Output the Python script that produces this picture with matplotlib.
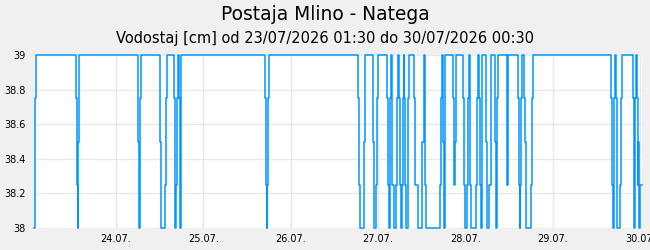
# Vodostaj chart for Postaja Mlino - Natega (step series, 23/07 - 30/07)

import pandas as pd
import matplotlib
matplotlib.use("Agg")
import matplotlib.pyplot as plt
import matplotlib.dates as mdates

start = pd.Timestamp("2026-07-23 01:30")
end = pd.Timestamp("2026-07-30 00:30")

# change points: hours since start and the level held from that moment on
t_hours = [0, 0.15, 0.3, 0.5,
           11.5, 11.8, 12.05, 12.15, 12.4,
           28.5, 28.8, 29.0, 29.2, 29.45,
           34.7, 34.95, 35.95, 36.2, 36.45,
           38.4, 38.7, 38.85, 39.0, 39.2, 39.5, 39.8, 40.0, 40.1, 40.25, 40.45,
           63.4, 63.8, 63.95, 64.05, 64.2, 64.6,
           88.9, 89.2, 89.5, 90.6, 90.9,
           93.2, 93.45, 94.0, 94.25, 94.5,
           96.9, 97.2, 97.45, 97.65, 97.85, 98.0,
           98.2, 98.4, 98.75, 99.5, 99.75, 99.9,
           100.2, 100.45, 100.75, 101.1, 101.35, 101.5,
           101.75, 102.0, 102.2, 102.65, 102.8, 103.1,
           104.3, 104.6, 105.4, 106.6, 107.05,
           107.3, 107.5, 107.7, 111.55, 111.85, 112.1,
           112.4, 112.65, 112.8, 115.0, 115.3, 115.5, 115.8,
           117.95, 118.2, 118.5, 118.85, 119.15, 119.4,
           119.7, 119.95, 121.45, 121.7, 121.9,
           122.35, 122.6, 122.9, 123.0, 123.1,
           124.2, 124.3, 125.1, 125.4, 125.55,
           126.55, 126.8, 127.1, 127.3, 127.4,
           129.8, 130.0, 130.1, 130.25,
           132.85, 133.15, 133.4, 133.5, 133.8, 133.95,
           134.7, 135.0, 135.25, 136.55, 136.8, 137.0,
           158.5, 158.8, 159.05, 159.2, 159.4, 159.6,
           159.9, 160.05, 160.15, 161.05, 161.25, 161.4,
           164.55, 164.7, 164.9, 165.0, 165.2, 165.35,
           165.65, 165.8, 166.0, 166.25, 166.5]
level = [38, 38.25, 38.75, 39,
         38.75, 38.25, 38, 38.5, 39,
         38.5, 38, 38.25, 38.75, 39,
         38.5, 38, 38.25, 38.75, 39,
         38.75, 38.25, 38, 38.25, 38.75, 39, 38.75, 38.25, 38, 38.5, 39,
         38.75, 38.25, 38, 38.25, 38.75, 39,
         38.75, 38.25, 38, 38.5, 39,
         38.5, 38, 38.25, 38.75, 39,
         38.75, 38.25, 38, 38.25, 38.75, 39,
         38.75, 38.25, 38, 38.25, 38.75, 39,
         38.75, 38.25, 38, 38.25, 38.75, 39,
         38.75, 38.25, 38, 38.25, 38.75, 39,
         38.75, 38.25, 38, 38.5, 39,
         38.75, 38.25, 38, 38.25, 38.75, 39,
         38.5, 38, 39, 38.75, 38.25, 38.5, 39,
         38.75, 38.25, 38, 38.25, 38.75, 39,
         38.25, 38, 38.25, 38.75, 39,
         38.75, 38.25, 38, 38.5, 39,
         38.5, 38, 38.25, 38.75, 39,
         38.5, 38, 38.25, 38.75, 39,
         38.75, 38.25, 38.75, 39,
         38.75, 38.25, 38, 38.25, 38.75, 39,
         38.75, 38.5, 38, 38.25, 38.75, 39,
         38.75, 38.25, 38, 38.25, 38.75, 39,
         38.75, 38.25, 38, 38.25, 38.75, 39,
         38.75, 38.25, 38, 38.25, 38.75, 39,
         38.75, 38.25, 38.5, 38, 38.25]

y_ticks = [38, 38.2, 38.4, 38.6, 38.8, 39]
y_labels = ["38", "38.2", "38.4", "38.6", "38.8", "39"]
day_ticks = pd.date_range("2026-07-24", "2026-07-30", freq="D")

title = "Postaja Mlino - Natega"
subtitle = "Vodostaj [cm] od 23/07/2026 01:30 do 30/07/2026 00:30"

# step series, hold the last value to the end of the range
times = [start + pd.Timedelta(hours=h) for h in t_hours] + [end]
values = level + [level[-1]]

fig = plt.figure(figsize=(6.5, 2.5), dpi=100)
fig.patch.set_facecolor("#f0f0f0")
ax = fig.add_axes([34 / 650, 22 / 250, 608 / 650, 173 / 250])
ax.set_facecolor("white")

ax.plot(times, values, drawstyle="steps-post", color="#0096ff", lw=1.1,
        clip_on=False, zorder=3)

ax.set_xlim(start, end)
ax.set_ylim(38, 39)
ax.set_yticks(y_ticks)
ax.set_yticklabels(y_labels)
ax.set_xticks(day_ticks)
ax.xaxis.set_major_formatter(mdates.DateFormatter("%d.%m."))
ax.tick_params(length=0, labelsize=7, colors="black")
ax.tick_params(axis="y", pad=6)
ax.tick_params(axis="x", pad=4)
ax.grid(True, color="#e8e8e8", lw=1)
for s in ax.spines.values():
    s.set_visible(False)

fig.text(0.5, 1 - 14 / 250, title, ha="center", va="center", fontsize=13.4)
fig.text(0.5, 1 - 39 / 250, subtitle, ha="center", va="center", fontsize=10.5)

fig.savefig("out.png", dpi=100, facecolor=fig.get_facecolor())
